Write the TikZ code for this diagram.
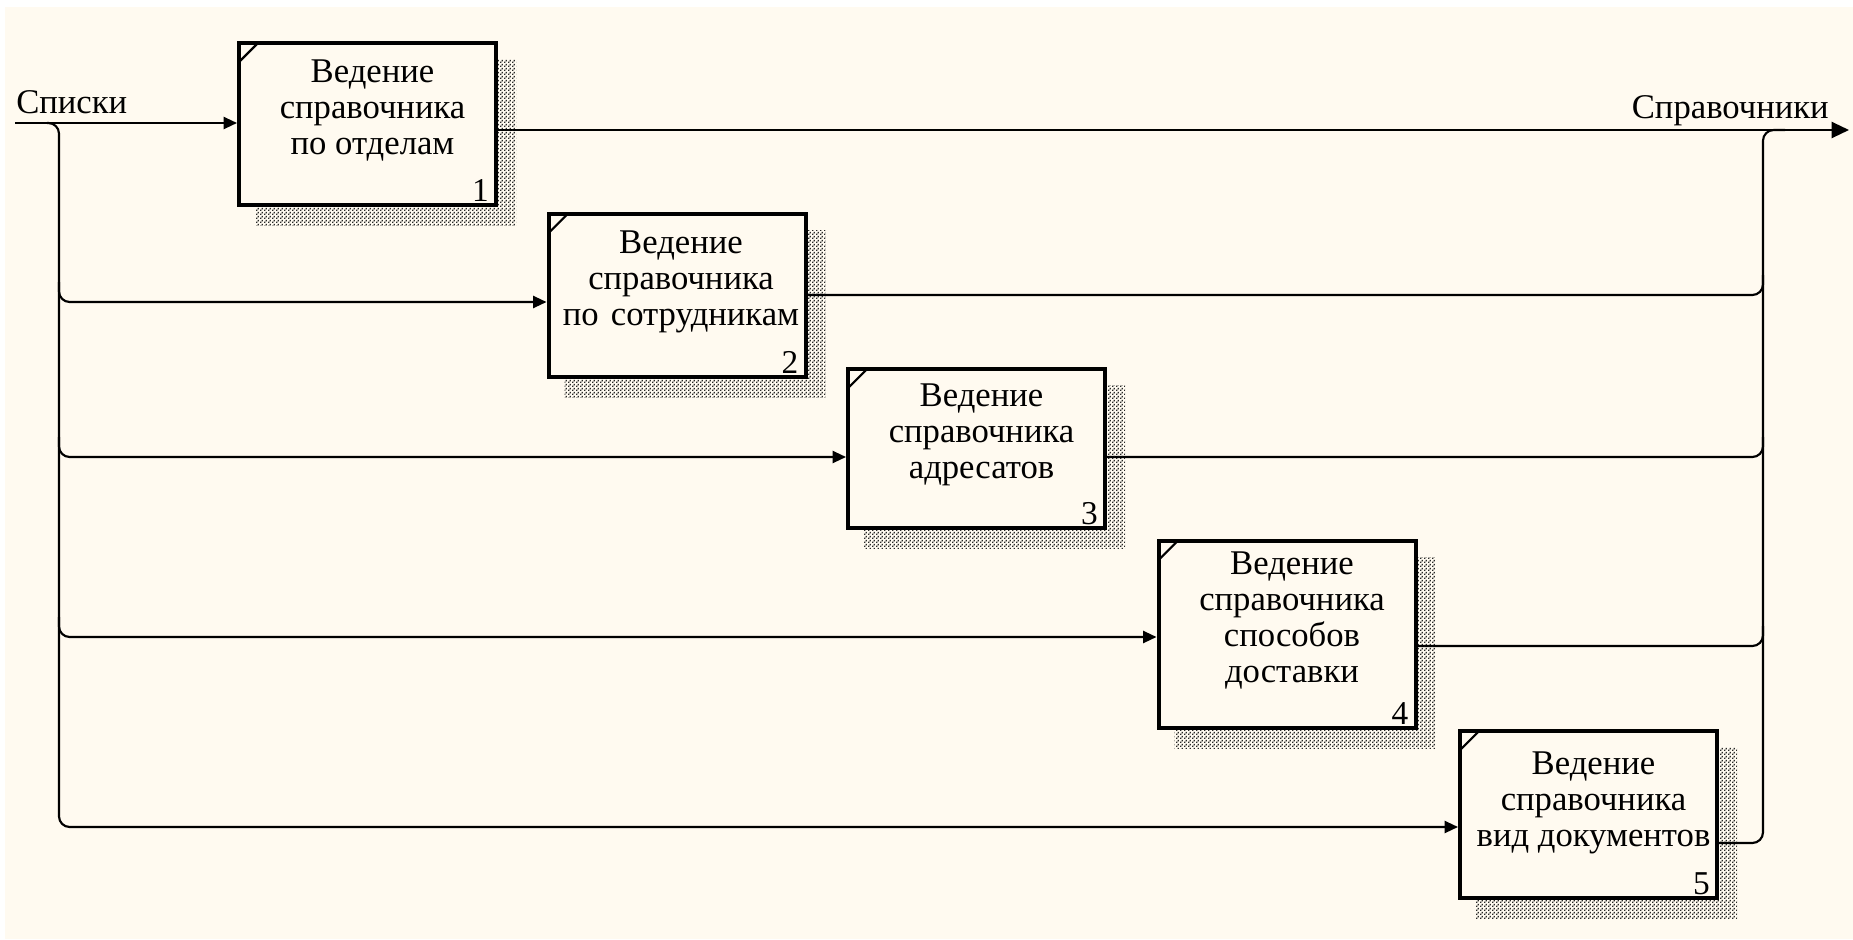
\documentclass[tikz,border=0pt]{standalone}
\usepackage{fontspec}
\setmainfont{Liberation Serif}
\usetikzlibrary{arrows.meta,patterns,calc,backgrounds}
\definecolor{bg}{RGB}{255,250,240}
\pgfdeclarepatternformonly{idefdots}{\pgfpointorigin}{\pgfpoint{3pt}{3pt}}{\pgfpoint{3pt}{3pt}}{%
  \pgfpathrectangle{\pgfpoint{0pt}{0pt}}{\pgfpoint{1.3pt}{1.3pt}}%
  \pgfpathrectangle{\pgfpoint{1.5pt}{1.5pt}}{\pgfpoint{1.3pt}{1.3pt}}%
  \pgfusepath{fill}}
\begin{document}
\begin{tikzpicture}[x=0.75pt,y=-0.75pt,
  box/.style={draw=black, line width=3pt, fill=bg, inner sep=0pt, minimum width=192.75pt},
  btext/.style={align=center, font=\fontsize{26}{27}\selectfont, inner sep=0pt},
  num/.style={anchor=south east, inner sep=0pt, font=\fontsize{25}{27}\selectfont},
  lbl/.style={inner sep=0pt, font=\fontsize{26}{27}\selectfont},
  conn/.style={line width=1.6pt},
  arr/.style={conn, -{Triangle[length=10pt,width=9pt]}},
  bigarr/.style={conn, -{Triangle[length=13pt,width=12pt]}},
  cornermark/.style={line width=1.6pt},
  shadowbox/.style={pattern=idefdots, pattern color=black!85}
]
\useasboundingbox (0,0) rectangle (1853,939);

% boxes
\node[box, minimum height=121.5pt]  (b1) at (367.5,124) {};
\node[box, minimum height=122.25pt] (b2) at (677,295.5) {};
\node[box, minimum height=119.25pt] (b3) at (976.5,448.5) {};
\node[box, minimum height=140.25pt] (b4) at (1287,634.5) {};
\node[box, minimum height=125.25pt] (b5) at (1588.5,814.5) {};

\begin{scope}[on background layer]
  \fill[bg] (0,0) rectangle (1853,939);
  \fill[white] (0,0) rectangle (1853,7);
  \fill[white] (0,0) rectangle (5,939);
  \foreach \b in {b1,b2,b3,b4,b5}
    \fill[shadowbox] ($(\b.north west)+(18,18)$) rectangle ($(\b.south east)+(18,18)$);
\end{scope}

% texts
\node[btext] (t1) at ($(b1.center)+(5,-14)$) {Ведение\\справочника\\по отделам};
\node[btext] (t2) at ($(b2.center)+(4,-14)$) {Ведение\\справочника\\по\hspace{0.35em}сотрудникам};
\node[btext] (t3) at ($(b3.center)+(5,-14)$) {Ведение\\справочника\\адресатов};
\node[btext] (t4) at ($(b4.center)+(5,-14)$) {Ведение\\справочника\\способов\\доставки};
\node[btext] (t5) at ($(b5.center)+(5,-12)$) {Ведение\\справочника\\вид документов};

\foreach \b/\n in {b1/1,b2/2,b3/3,b4/4,b5/5}{
  \node[num] (n\n) at ($(\b.south east)+(-9,-5)$) {\n};
  \draw[cornermark] ($(\b.north west)+(3,20)$) -- ($(\b.north west)+(20,3)$);
}

% labels
\node[lbl, anchor=base west] (lin) at (16,113) {Списки};
\node[lbl, anchor=base east] (lout) at (1829,118) {Справочники};

% input side
\coordinate (inL) at (15,123);
\coordinate (outR) at (1849,130);
\draw[arr] (inL) -- (b1.west |- 0,123);
\draw[arr, rounded corners=8pt] (47,123) -- (59,123) -- (59,827) -- (b5.west |- 0,827);
\draw[arr, rounded corners=8pt] (59,282) -- (59,302) -- (b2.west |- 0,302);
\draw[arr, rounded corners=8pt] (59,437) -- (59,457) -- (b3.west |- 0,457);
\draw[arr, rounded corners=8pt] (59,617) -- (59,637) -- (b4.west |- 0,637);

% output side
\draw[bigarr] (b1.east |- 0,130) -- (outR);
\draw[conn, rounded corners=8pt] (b5.east |- 0,843) -- (1763,843) -- (1763,130) -- (1785,130);
\draw[conn, rounded corners=8pt] (b2.east |- 0,295) -- (1763,295) -- (1763,275);
\draw[conn, rounded corners=8pt] (b3.east |- 0,457) -- (1763,457) -- (1763,437);
\draw[conn, rounded corners=8pt] (b4.east |- 0,646) -- (1763,646) -- (1763,626);
\end{tikzpicture}
\end{document}
